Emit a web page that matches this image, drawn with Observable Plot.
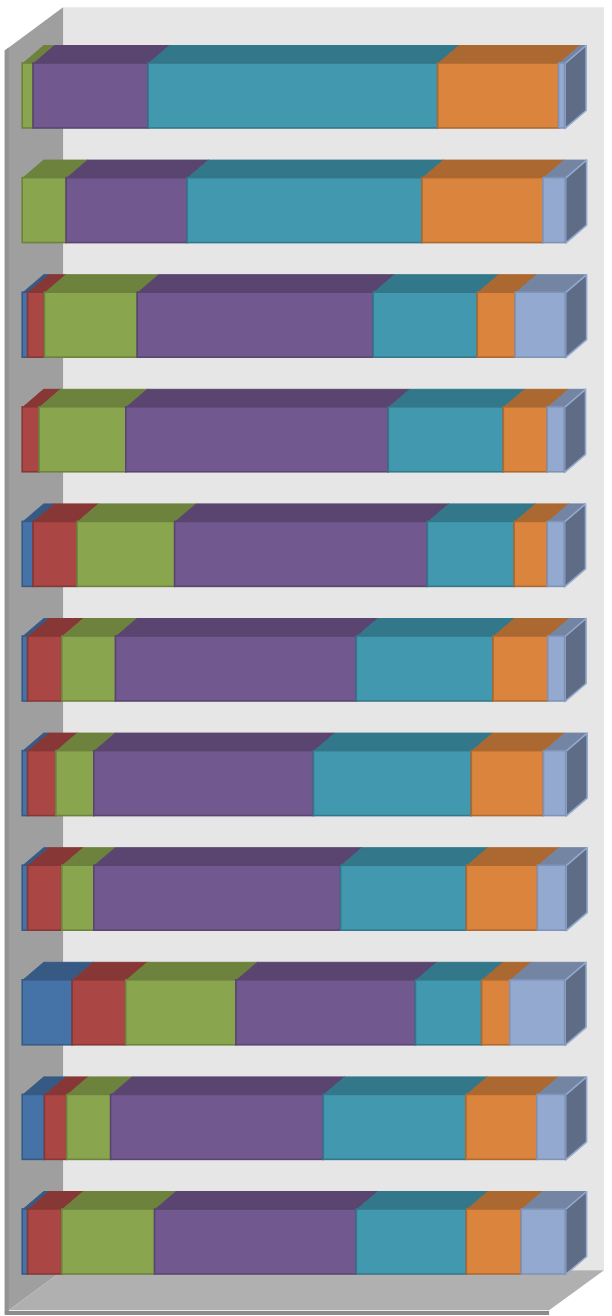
<!DOCTYPE html>
<html><head><meta charset="utf-8">
<style>html,body{margin:0;padding:0;background:#fff}svg{display:block}</style>
<script src="https://cdn.jsdelivr.net/npm/d3@7"></script>
<script src="https://cdn.jsdelivr.net/npm/@observablehq/plot@0.6"></script>
</head><body><div id="chart"></div>
<script>
const rows = [0,1,2,3,4,5,6,7,8,9,10];
const blue   = [0,0,1,0,2,1,1,1,9.2,4.1,1];
const red    = [0,0,3.1,3.1,8.1,6.3,5.2,6.3,9.9,4.1,6.3];
const green  = [2,8.1,17.1,16,18,9.9,7,5.9,20.3,8.1,17.1];
const purple = [21.2,22.3,43.5,48.4,46.6,44.4,40.5,45.5,33.1,39.2,37.2];
const teal   = [53.4,43.3,19.2,21.2,16,25.2,29.1,23.2,12.2,26.3,20.3];
const orange = [22.3,22.3,7,8.1,6.1,10.1,13.3,13.1,5.2,13.1,10.1];
const light  = [1.1,4.1,9.2,3.1,3.1,3.1,4.1,5.2,10.1,5.2,8.1];
const seriesList = [blue,red,green,purple,teal,orange,light];
const frontColors = ["#4572a7","#aa4643","#89a54e","#71588f","#4198af","#db843d","#93a9cf"];
const edgeColors  = ["#375a85","#873735","#6c823d","#59456f","#33778a","#ad6930","#7f93b8"];
const topColors   = ["#375a85","#873735","#6c823d","#59456f","#33778a","#ab6830","#7485a3"];
const sideColor = "#5f6c85";

const barH = 0.567, dx = 3.87, dy = 0.157;
const fronts = [], walls = [], tops = [], sides = [];
const poly = (list, pts, fill, stroke) => {
  const id = list.length ? list[list.length-1].id + 1 : 0;
  pts.forEach(([x,y]) => list.push({id, x, y, fill, stroke}));
};
const closed = pts => [...pts, pts[0]];
// chart walls, in the units of the two scales
poly(walls, [[7.45,-0.49],[107.18,-0.49],[107.18,10.53],[7.45,10.53]], "#e6e6e6", "none");
poly(walls, [[-3.31,-0.113],[7.45,-0.49],[7.45,10.53],[-2.58,10.88],[-2.58,10.91],[-3.31,10.91]], "#9f9f9f", "none");
poly(walls, [[-3.31,-0.113],[-2.58,-0.139],[-2.58,10.91],[-3.31,10.91]], "#939393", "none");
poly(walls, [[-2.58,10.88],[7.45,10.53],[107.18,10.53],[97.05,10.88]], "#b0b0b0", "none");
poly(walls, [[-3.31,10.885],[97.05,10.885],[97.05,10.92],[-3.31,10.92]], "#8c8c8c", "none");

rows.forEach(r => {
  let x0 = 0;
  const segs = [];
  seriesList.forEach((s,k) => {
    const v = s[r];
    if (v > 0) segs.push({r, k, x1:x0, x2:x0+v});
    x0 += v;
  });
  segs.forEach(d => {
    poly(tops, closed([[d.x1,r],[d.x1+dx,r-dy],[d.x2+dx,r-dy],[d.x2,r]]), topColors[d.k], topColors[d.k]);
  });
  const last = segs[segs.length-1];
  poly(sides, closed([[last.x2,r],[last.x2+dx,r-dy],[last.x2+dx,r+barH-dy],[last.x2,r+barH]]), sideColor, frontColors[last.k]);
  segs.forEach(d => fronts.push({...d, y1:r, y2:r+barH, fill:frontColors[d.k], stroke:edgeColors[d.k]}));
});

const plot = Plot.plot({
  width: 612, height: 1316,
  marginTop: 0, marginRight: 0, marginBottom: 0, marginLeft: 0,
  x: {domain:[0,100], range:[22.2,564.6], axis:null},
  y: {domain:[0,10], range:[63,1209], axis:null},
  color: {type:"identity"},
  marks: [
    Plot.line(walls, {x:"x", y:"y", z:"id", fill:"fill", stroke:"stroke", curve:"linear"}),
    Plot.line(tops, {x:"x", y:"y", z:"id", fill:"fill", stroke:"stroke", strokeWidth:1, curve:"linear"}),
    Plot.line(sides, {x:"x", y:"y", z:"id", fill:"fill", stroke:"stroke", strokeWidth:1.6, curve:"linear"}),
    Plot.rect(fronts, {x1:"x1", x2:"x2", y1:"y1", y2:"y2", fill:"fill", stroke:"stroke", strokeWidth:1.6})
  ]
});
document.getElementById("chart").appendChild(plot);
</script></body></html>
